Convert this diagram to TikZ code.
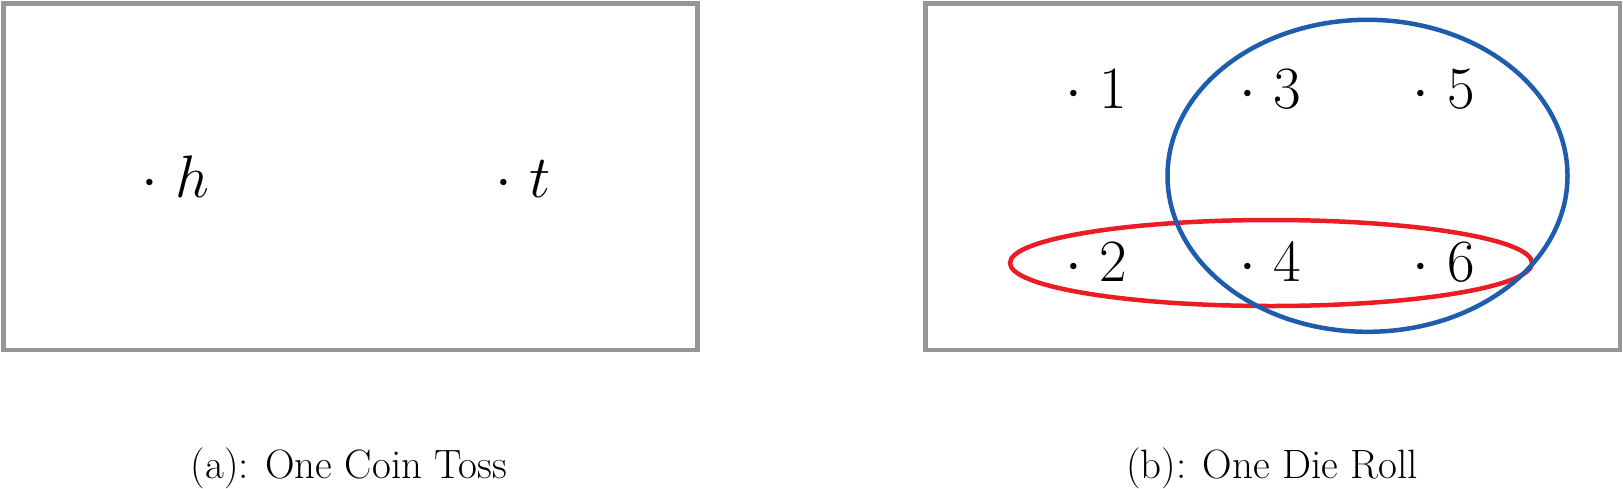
\documentclass[tikz,border=0pt]{standalone}
\usepackage{fix-cm}
\definecolor{framegray}{RGB}{150,150,150}
\definecolor{setblue}{RGB}{30,92,172}
\definecolor{setred}{RGB}{236,28,36}
\tikzset{
  frame/.style={draw=framegray, line width=4.5pt},
  outcome/.style={anchor=base west, inner sep=0pt, font=\fontsize{60}{72}\selectfont},
  caption/.style={anchor=base, inner sep=0pt, font=\fontsize{41}{49}\selectfont},
  bluering/.style={draw=setblue, line width=4.5pt},
  redring/.style={draw=setred, line width=4.5pt}
}
\begin{document}
\begin{tikzpicture}[x=1pt, y=-1pt]
\useasboundingbox (0,0) rectangle (1623,488);
% frames
\draw[frame] (3.3,3.3) rectangle (697.3,350);
\draw[frame] (925.3,3.3) rectangle (1620,350);
% coin toss outcomes
\node[outcome] (h) at (141,197.5) {$\cdot\ h$};
\node[outcome] (t) at (495,197.5) {$\cdot\ t$};
% die outcomes
\node[outcome] (n1) at (1065,108.3) {$\cdot\ 1$};
\node[outcome] (n3) at (1239,108.3) {$\cdot\ 3$};
\node[outcome] (n5) at (1412,108.3) {$\cdot\ 5$};
\node[outcome] (n2) at (1065,281.7) {$\cdot\ 2$};
\node[outcome] (n4) at (1239,281.7) {$\cdot\ 4$};
\node[outcome] (n6) at (1412,281.7) {$\cdot\ 6$};
% events
\draw[redring] (1271,263) ellipse [x radius=261, y radius=43];
\draw[bluering] (1367.5,175.8) ellipse [x radius=200, y radius=156];
% captions
\node[caption] (capa) at (349,478) {(a): One Coin Toss};
\node[caption] (capb) at (1272,478) {(b): One Die Roll};
\end{tikzpicture}
\end{document}
